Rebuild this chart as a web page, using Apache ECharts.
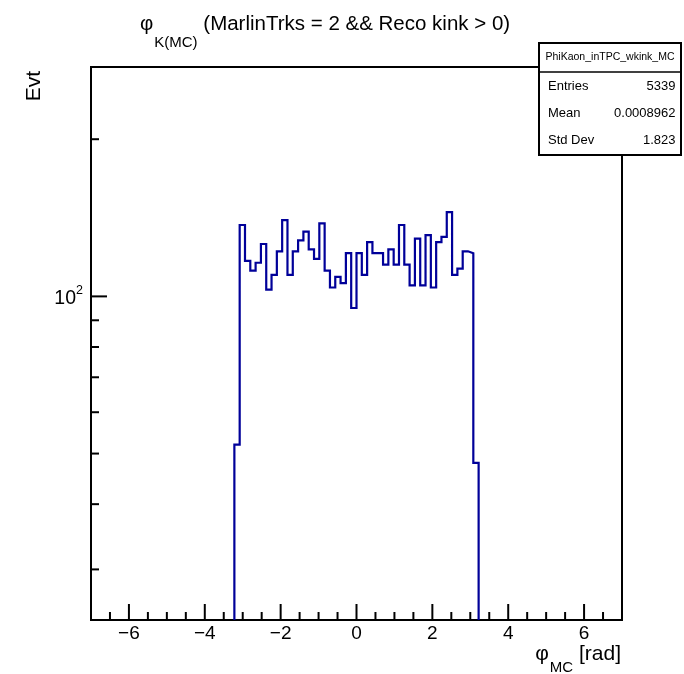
<!DOCTYPE html>
<html>
<head>
<meta charset="utf-8">
<script src="https://cdn.jsdelivr.net/npm/echarts@6/dist/echarts.min.js"></script>
<style>html,body{margin:0;padding:0;background:#fff;}#c{width:684px;height:674px;}</style>
</head>
<body>
<div id="c"></div>
<script>
// ---- data ----
const binLowEdge = -3.22;      // lower edge of first filled bin
const binWidth = 0.14;         // 100 bins over [-7, 7]
const counts = [52, 137, 117, 112, 116, 126, 103, 110, 122, 140,
                110, 122, 128, 133, 123, 118, 138, 112, 104, 109,
                106, 121, 95, 121, 110, 127, 121, 121, 115, 123,
                115, 137, 115, 105, 129, 105, 131, 104, 127, 130,
                145, 110, 113, 122, 121, 48];
const xRange = [-7, 7];
const yRange = [24, 275];
const xMajorTicks = [-6, -4, -2, 0, 2, 4, 6];
const xMinorTicks = [-6.5, -5.5, -5, -4.5, -3.5, -3, -2.5, -1.5, -1, -0.5,
                     0.5, 1, 1.5, 2.5, 3, 3.5, 4.5, 5, 5.5, 6.5];
const yMajorTicks = [100];
const yMinorTicks = [30, 40, 50, 60, 70, 80, 90, 200];
const statName = 'PhiKaon_inTPC_wkink_MC';
const statRows = [['Entries', '5339'], ['Mean', '0.0008962'], ['Std Dev', '1.823']];

// ---- build step outline from bins ----
const outline = [[binLowEdge, yRange[0]]];
counts.forEach((c, i) => {
  const lo = binLowEdge + i * binWidth;
  const hi = lo + binWidth;
  outline.push([lo, c], [hi, c]);
});
outline.push([binLowEdge + counts.length * binWidth, yRange[0]]);

const FONT = '"Liberation Sans", Arial, Helvetica, sans-serif';
const chart = echarts.init(document.getElementById('c'), null, {renderer: 'canvas'});

function tickSeries(data, axis, len) {
  return {
    type: 'custom', coordinateSystem: 'cartesian2d', silent: true, z: 5, clip: false,
    data: data.map(v => axis === 'x' ? [v, yRange[0]] : [xRange[0], v]),
    renderItem: (params, api) => {
      const p = api.coord([api.value(0), api.value(1)]);
      const shape = axis === 'x'
        ? {x1: p[0], y1: p[1], x2: p[0], y2: p[1] - len}
        : {x1: p[0], y1: p[1], x2: p[0] + len, y2: p[1]};
      return {type: 'line', shape, style: {stroke: '#000', lineWidth: 2}};
    }
  };
}

const statGraphics = [
  {type: 'rect', z: 100, shape: {x: 539, y: 43, width: 142, height: 112},
   style: {fill: '#fff', stroke: '#000', lineWidth: 2}},
  {type: 'line', z: 101, shape: {x1: 539, y1: 72, x2: 681, y2: 72},
   style: {stroke: '#000', lineWidth: 1.5}},
  {type: 'text', z: 102, x: 610, y: 57.5,
   style: {text: statName, font: '10.5px ' + FONT, fill: '#000', align: 'center', verticalAlign: 'middle'}}
];
statRows.forEach((r, i) => {
  const y = 86.5 + i * 27;
  statGraphics.push(
    {type: 'text', z: 102, x: 548, y: y,
     style: {text: r[0], font: '13px ' + FONT, fill: '#000', align: 'left', verticalAlign: 'middle'}},
    {type: 'text', z: 102, x: 675.5, y: y,
     style: {text: r[1], font: '13px ' + FONT, fill: '#000', align: 'right', verticalAlign: 'middle'}}
  );
});

const option = {
  animation: false,
  backgroundColor: '#fff',
  grid: {left: 91, top: 67, width: 531, height: 553, show: true,
         borderColor: '#000', borderWidth: 2, backgroundColor: '#fff', containLabel: false},
  xAxis: {
    type: 'value', min: xRange[0], max: xRange[1], interval: 1,
    axisLine: {show: true, onZero: false, lineStyle: {color: '#000', width: 2}},
    axisTick: {show: false}, splitLine: {show: false},
    axisLabel: {
      color: '#000', fontSize: 19, fontFamily: FONT, margin: 4,
      formatter: v => (xMajorTicks.indexOf(v) >= 0 ? (v < 0 ? '\u2212' + Math.abs(v) : String(Math.abs(v))) : '')
    }
  },
  yAxis: {
    type: 'log', logBase: 10, min: yRange[0], max: yRange[1],
    axisLine: {show: true, onZero: false, lineStyle: {color: '#000', width: 2}},
    axisTick: {show: false}, splitLine: {show: false}, minorTick: {show: false},
    axisLabel: {
      color: '#000', fontFamily: FONT, margin: 8,
      formatter: v => (yMajorTicks.some(t => Math.abs(t - v) < 1e-6) ? '{a|10}{b|2}' : ''),
      rich: {
        a: {fontSize: 19.5, fontFamily: FONT, color: '#000', lineHeight: 24, verticalAlign: 'bottom'},
        b: {fontSize: 12.5, fontFamily: FONT, color: '#000', lineHeight: 24, verticalAlign: 'top', padding: [0, 0, 9, 0]}
      }
    }
  },
  series: [
    {type: 'line', data: outline, showSymbol: false, symbol: 'none', z: 3,
     lineStyle: {color: '#000099', width: 2.2, join: 'miter', cap: 'butt'}},
    tickSeries(xMajorTicks, 'x', 16),
    tickSeries(xMinorTicks, 'x', 8),
    tickSeries(yMajorTicks, 'y', 16),
    tickSeries(yMinorTicks, 'y', 8)
  ],
  graphic: [
    {type: 'text', z: 50, x: 140, y: 14,
     style: {
       text: '{p|\u03C6}{s|K(MC)}{t| (MarlinTrks = 2 && Reco kink > 0)}',
       rich: {
         p: {font: '20.5px ' + FONT, fill: '#000', lineHeight: 24, verticalAlign: 'top'},
         s: {font: '15px ' + FONT, fill: '#000', lineHeight: 24, verticalAlign: 'top', padding: [21, 0, 0, 1]},
         t: {font: '20.5px ' + FONT, fill: '#000', lineHeight: 24, verticalAlign: 'top'}
       }
     }},
    {type: 'text', z: 50, x: 621, y: 644, style: {
       text: '{p|\u03C6}{s|MC}{t| [rad]}', align: 'right',
       rich: {
         p: {font: '21px ' + FONT, fill: '#000', lineHeight: 24, verticalAlign: 'top'},
         s: {font: '15px ' + FONT, fill: '#000', lineHeight: 24, verticalAlign: 'top', padding: [16, 0, 0, 1]},
         t: {font: '21px ' + FONT, fill: '#000', lineHeight: 24, verticalAlign: 'top'}
       }
     }},
    {type: 'text', z: 50, x: 34, y: 86, rotation: Math.PI / 2,
     style: {text: 'Evt', font: '21px ' + FONT, fill: '#000', align: 'center', verticalAlign: 'middle'}}
  ].concat(statGraphics)
};
chart.setOption(option);
</script>
</body>
</html>
